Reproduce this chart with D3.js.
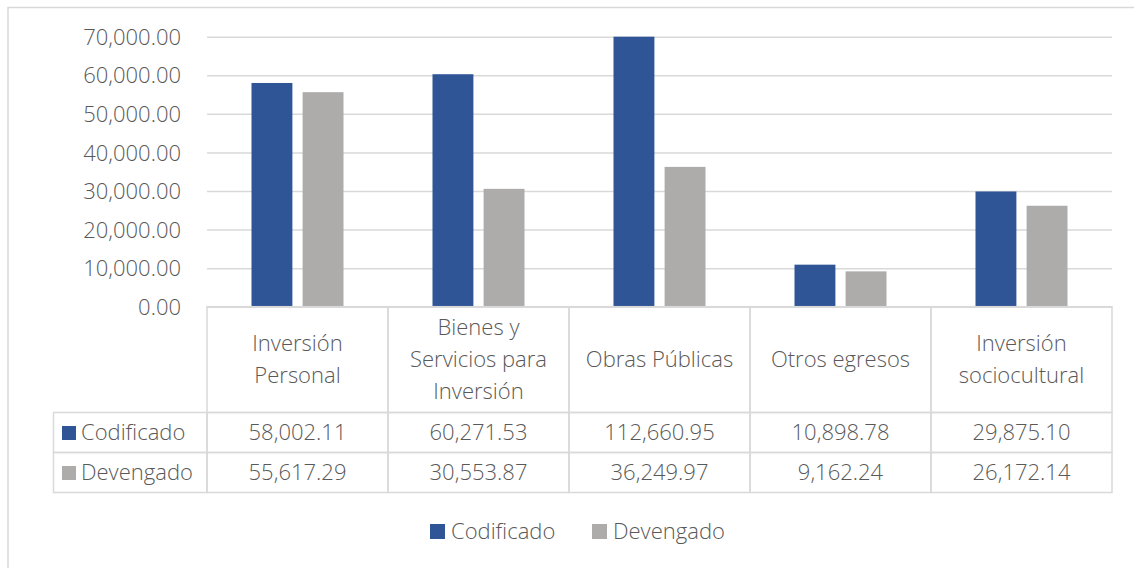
<!DOCTYPE html>
<html>
<head>
<meta charset="utf-8">
<script src="https://cdn.jsdelivr.net/npm/d3@7"></script>
<style>
  html, body { margin: 0; padding: 0; background: #fff; }
  svg text { font-family: "Open Sans", "Noto Sans", sans-serif; font-weight: 300; fill: #595959; }
</style>
</head>
<body>
<div id="chart"></div>
<script>
// data
const categories = ["Inversión Personal", "Bienes y Servicios para Inversión", "Obras Públicas", "Otros egresos", "Inversión sociocultural"];
const categoryLines = [["Inversión", "Personal"], ["Bienes y", "Servicios para", "Inversión"], ["Obras Públicas"], ["Otros egresos"], ["Inversión", "sociocultural"]];
const series = ["Codificado", "Devengado"];
const codificado = [58002.11, 60271.53, 112660.95, 10898.78, 29875.10];
const devengado = [55617.29, 30553.87, 36249.97, 9162.24, 26172.14];
const yTicks = [0, 10000, 20000, 30000, 40000, 50000, 60000, 70000];

const W = 1134, H = 568;
const colors = { Codificado: "#2f5597", Devengado: "#aeabab" };
const grid = "#d9d9d9";
const fmt = d3.format(",.2f");
const fs = 22;

const plotLeft = 207, plotRight = 1112, plotTop = 36.7, plotBottom = 306.7;
const tableLeft = 53.5, headerBottom = 412.5, rowH = 40;

const svg = d3.select("#chart").append("svg")
  .attr("width", W)
  .attr("height", H);

// chart frame (runs off the right and bottom edge)
svg.append("rect")
  .attr("x", 8).attr("y", 7.5)
  .attr("width", 1300).attr("height", 700)
  .attr("fill", "none")
  .attr("stroke", grid)
  .attr("stroke-width", 1.5);

const x = d3.scaleBand().domain(categories).range([plotLeft, plotRight]);
const xs = d3.scaleBand().domain(series).range([44.5, 136.5]).paddingInner(0.2);
const y = d3.scaleLinear().domain([0, 70000]).range([plotBottom, plotTop]).clamp(true);

// y axis with gridlines
const yAxis = svg.append("g")
  .attr("transform", `translate(${plotLeft},0)`)
  .call(d3.axisLeft(y).tickValues(yTicks).tickFormat(fmt)
    .tickSize(-(plotRight - plotLeft)).tickPadding(26));
yAxis.select(".domain").remove();
yAxis.selectAll("line").attr("stroke", grid).attr("stroke-width", 1.5);
yAxis.selectAll("text").attr("font-size", fs).attr("dy", "0.35em");

// bars
const rows = series.map(s => ({ name: s, values: s === "Codificado" ? codificado : devengado }));
rows.forEach(r => {
  svg.append("g").selectAll("rect")
    .data(r.values)
    .join("rect")
    .attr("x", (d, i) => x(categories[i]) + xs(r.name))
    .attr("y", d => y(d))
    .attr("width", xs.bandwidth())
    .attr("height", d => y(0) - y(d))
    .attr("fill", colors[r.name]);
});

// data table
const tbl = svg.append("g");
const lineStyle = sel => sel.attr("stroke", grid).attr("stroke-width", 1.5);

// header cells
categories.forEach(c => {
  tbl.append("rect")
    .attr("x", x(c)).attr("y", plotBottom)
    .attr("width", x.bandwidth()).attr("height", headerBottom - plotBottom)
    .attr("fill", "none").call(lineStyle);
});
// value rows
rows.forEach((r, ri) => {
  const top = headerBottom + ri * rowH;
  tbl.append("rect")
    .attr("x", tableLeft).attr("y", top)
    .attr("width", plotLeft - tableLeft).attr("height", rowH)
    .attr("fill", "none").call(lineStyle);
  tbl.append("rect")
    .attr("x", 62).attr("y", top + 13.5)
    .attr("width", 14).attr("height", 14)
    .attr("fill", colors[r.name]);
  tbl.append("text")
    .attr("x", 81).attr("y", top + rowH / 2)
    .attr("dy", "0.35em")
    .attr("font-size", fs)
    .text(r.name);
  r.values.forEach((v, i) => {
    tbl.append("rect")
      .attr("x", x(categories[i])).attr("y", top)
      .attr("width", x.bandwidth()).attr("height", rowH)
      .attr("fill", "none").call(lineStyle);
    tbl.append("text")
      .attr("x", x(categories[i]) + x.bandwidth() / 2)
      .attr("y", top + rowH / 2)
      .attr("dy", "0.35em")
      .attr("text-anchor", "middle")
      .attr("font-size", fs)
      .text(fmt(v));
  });
});

// category labels
categories.forEach((c, i) => {
  const lines = categoryLines[i];
  const lh = 32;
  const cy = (plotBottom + headerBottom) / 2;
  const t = tbl.append("text")
    .attr("text-anchor", "middle")
    .attr("font-size", fs);
  lines.forEach((ln, j) => {
    t.append("tspan")
      .attr("x", x(c) + x.bandwidth() / 2)
      .attr("y", cy + (j - (lines.length - 1) / 2) * lh)
      .attr("dy", "0.35em")
      .text(ln);
  });
});

// legend
const legendX = [430, 592];
series.forEach((s, i) => {
  svg.append("rect")
    .attr("x", legendX[i]).attr("y", 524)
    .attr("width", 15).attr("height", 15)
    .attr("fill", colors[s]);
  svg.append("text")
    .attr("x", legendX[i] + 21).attr("y", 531.5)
    .attr("dy", "0.35em")
    .attr("font-size", fs)
    .text(s);
});
</script>
</body>
</html>
